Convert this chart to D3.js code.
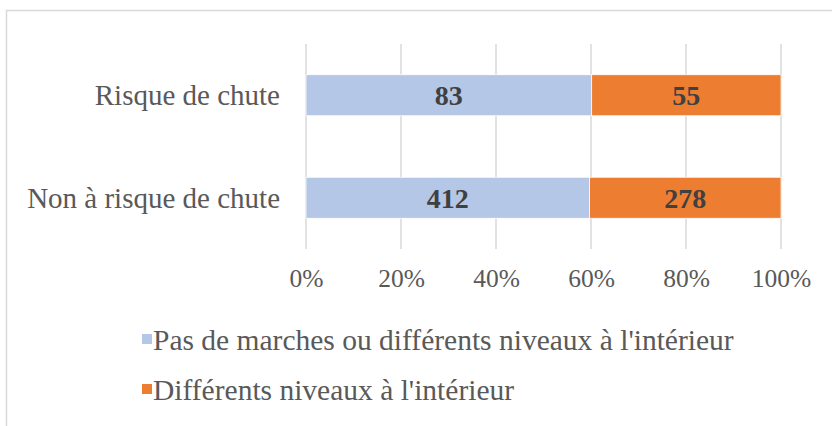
<!DOCTYPE html>
<html>
<head>
<meta charset="utf-8">
<script src="https://cdn.jsdelivr.net/npm/d3@7"></script>
<style>
  html, body { margin: 0; padding: 0; background: #fff; }
  svg { display: block; }
</style>
</head>
<body>
<svg id="chart" width="832" height="426"></svg>
<script>
// Categories (top to bottom) and counts per series
const categories = ["Risque de chute", "Non à risque de chute"];
const seriesNames = ["Pas de marches ou différents niveaux à l'intérieur", "Différents niveaux à l'intérieur"];
const seriesColors = ["#b4c7e7", "#ed7d31"];
const valuesNoSteps = [83, 412];
const valuesLevels = [55, 278];
const tickValues = [0, 0.2, 0.4, 0.6, 0.8, 1.0];
const tickLabels = ["0%", "20%", "40%", "60%", "80%", "100%"];

const font = "'Liberation Serif', 'Times New Roman', serif";
const svg = d3.select("#chart");

// Chart frame
svg.append("rect")
  .attr("x", 6.5).attr("y", 10.5)
  .attr("width", 900).attr("height", 500)
  .attr("fill", "#fff").attr("stroke", "#d9d9d9").attr("stroke-width", 1.5);

const plot = { left: 306, right: 781, top: 44, bottom: 249 };

const x = d3.scaleLinear().domain([0, 1]).range([plot.left, plot.right]);
const y = d3.scaleBand().domain(categories).range([plot.top, plot.bottom]).paddingInner(0.6).paddingOuter(0.3);

// Stacked proportions
const rows = categories.map((c, i) => ({ cat: c, s0: valuesNoSteps[i], s1: valuesLevels[i] }));
const stack = d3.stack().keys(["s0", "s1"]).offset(d3.stackOffsetExpand);
const stacked = stack(rows);

// Vertical gridlines
svg.append("g").selectAll("line").data(tickValues).join("line")
  .attr("x1", d => x(d)).attr("x2", d => x(d))
  .attr("y1", plot.top).attr("y2", plot.bottom)
  .attr("stroke", "#d9d9d9").attr("stroke-width", 1.5);

// Bars
const layers = svg.append("g").selectAll("g").data(stacked).join("g")
  .attr("fill", (d, i) => seriesColors[i]);
layers.selectAll("rect").data(d => d).join("rect")
  .attr("x", d => x(d[0]))
  .attr("width", d => x(d[1]) - x(d[0]))
  .attr("y", d => y(d.data.cat))
  .attr("height", y.bandwidth())
  .attr("stroke", "#fff").attr("stroke-width", 0.75);

// Value labels
const raw = [valuesNoSteps, valuesLevels];
layers.selectAll("text").data((d, si) => d.map((p, ci) => ({ p, v: raw[si][ci] }))).join("text")
  .attr("x", d => (x(d.p[0]) + x(d.p[1])) / 2)
  .attr("y", d => y(d.p.data.cat) + y.bandwidth() / 2)
  .attr("dy", "0.35em")
  .attr("text-anchor", "middle")
  .attr("font-family", font).attr("font-weight", "bold").attr("font-size", 28)
  .attr("fill", "#404040")
  .text(d => d.v);

// Category axis labels
svg.append("g").selectAll("text").data(categories).join("text")
  .attr("x", 280)
  .attr("y", d => y(d) + y.bandwidth() / 2)
  .attr("dy", "0.35em")
  .attr("text-anchor", "end")
  .attr("font-family", font).attr("font-size", 29)
  .attr("fill", "#595959")
  .text(d => d);

// Percentage axis
const xAxis = d3.axisBottom(x).tickValues(tickValues).tickFormat((d, i) => tickLabels[i]).tickSize(0).tickPadding(0);
const gx = svg.append("g").attr("transform", `translate(0, 278)`).call(xAxis);
gx.select(".domain").remove();
gx.selectAll("text")
  .attr("font-family", font).attr("font-size", 25.5)
  .attr("fill", "#595959").attr("dy", "0.35em");

// Legend
const legend = svg.append("g").selectAll("g").data(seriesNames).join("g")
  .attr("transform", (d, i) => `translate(142, ${340 + i * 50})`);
legend.append("rect")
  .attr("x", 0).attr("y", -6).attr("width", 10).attr("height", 10)
  .attr("fill", (d, i) => seriesColors[i]);
legend.append("text")
  .attr("x", 11).attr("dy", "0.35em")
  .attr("font-family", font).attr("font-size", 29.5)
  .attr("fill", "#595959")
  .text(d => d);
</script>
</body>
</html>
